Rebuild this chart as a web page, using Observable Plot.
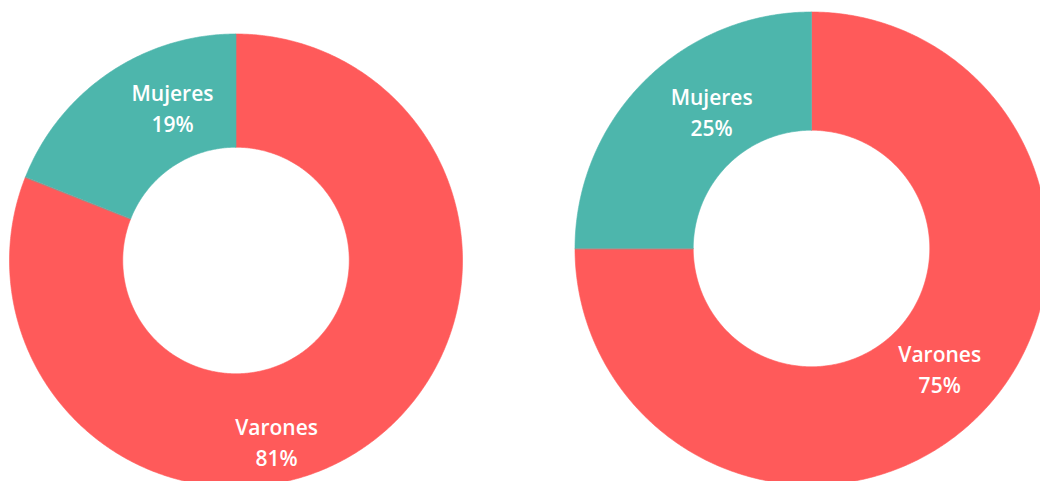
<!DOCTYPE html>
<html>
<head>
<meta charset="utf-8">
<script src="https://cdn.jsdelivr.net/npm/d3@7"></script>
<script src="https://cdn.jsdelivr.net/npm/@observablehq/plot@0.6"></script>
<style>
  html, body { margin: 0; padding: 0; background: #fff; }
  #wrap { display: flex; width: 1040px; height: 481px; overflow: hidden; }
  #wrap svg { display: block; }
</style>
</head>
<body>
<div id="wrap"></div>
<script>
// ---- data ----
const categories = ["Varones", "Mujeres"];
const leftValues = [81, 19];
const rightValues = [75, 25];
const colors = ["#FF5A5A", "#4DB6AC"];

// ---- layout (not data) ----
const leftLayout = {cx: 235.5, cy: 260, r: 226.5, inner: 0.5,
  labels: {Varones: [167.3, 0.815], Mujeres: [337.6, 0.736]}};
const rightLayout = {cx: 291, cy: 248, r: 236.5, inner: 0.5,
  labels: {Varones: [132.9, 0.74], Mujeres: [324.1, 0.72]}};

function donut(values, L) {
  const arcs = d3.pie().sort(null).value(d => d)(values);
  const sliceMarks = arcs.map((a, i) => {
    const n = Math.max(2, Math.ceil((a.endAngle - a.startAngle) / (Math.PI / 360)));
    const pts = [];
    for (let k = 0; k <= n; k++) {
      const t = a.startAngle + (a.endAngle - a.startAngle) * k / n;
      pts.push({x: Math.sin(t), y: Math.cos(t)});
    }
    for (let k = n; k >= 0; k--) {
      const t = a.startAngle + (a.endAngle - a.startAngle) * k / n;
      pts.push({x: L.inner * Math.sin(t), y: L.inner * Math.cos(t)});
    }
    return Plot.line(pts, {x: "x", y: "y", fill: colors[i], stroke: colors[i], strokeWidth: 0.6, curve: "linear-closed"});
  });
  const labels = categories.map((c, i) => {
    const [deg, f] = L.labels[c];
    const t = deg * Math.PI / 180;
    return {x: f * Math.sin(t), y: f * Math.cos(t), text: `${c}\n${values[i]}%`};
  });
  return Plot.plot({
    width: 520,
    height: 481,
    margin: 0,
    x: {domain: [-1, 1], range: [L.cx - L.r, L.cx + L.r], axis: null},
    y: {domain: [-1, 1], range: [L.cy + L.r, L.cy - L.r], axis: null},
    style: {background: "transparent", overflow: "hidden"},
    marks: [
      ...sliceMarks,
      Plot.text(labels, {x: "x", y: "y", text: "text", fill: "#fff", fontSize: 21,
        fontWeight: 600, fontFamily: "Open Sans", lineHeight: 1.5})
    ]
  });
}

const wrap = document.getElementById("wrap");
wrap.appendChild(donut(leftValues, leftLayout));
wrap.appendChild(donut(rightValues, rightLayout));
</script>
</body>
</html>
